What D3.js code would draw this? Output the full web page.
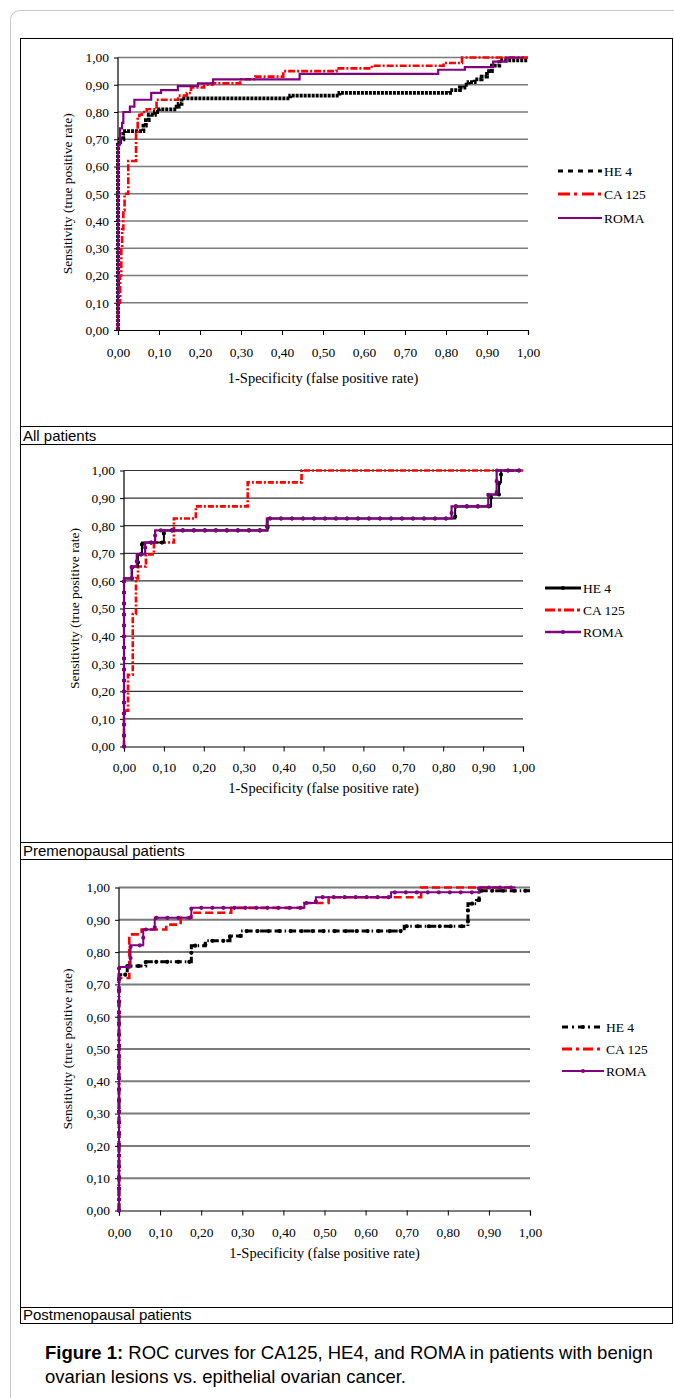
<!DOCTYPE html>
<html><head><meta charset="utf-8">
<script src="https://cdn.jsdelivr.net/npm/d3@7"></script>
<style>body{margin:0;background:#fff}svg{display:block}</style>
</head><body>
<svg id="c" width="674" height="1398"></svg>
<script>
// ---------- data ----------
const xTicks = [0,0.1,0.2,0.3,0.4,0.5,0.6,0.7,0.8,0.9,1.0];
const yTicks = [0,0.1,0.2,0.3,0.4,0.5,0.6,0.7,0.8,0.9,1.0];
const seriesNames = ["HE 4","CA 125","ROMA"];
const panelLabels = ["All patients","Premenopausal patients","Postmenopausal patients"];
const xTitle = "1-Specificity (false positive rate)";
const yTitle = "Sensitivity (true positive rate)";
const captionBold = "Figure 1:";
const captionLine1 = " ROC curves for CA125, HE4, and ROMA in patients with benign";
const captionLine2 = "ovarian lesions vs. epithelial ovarian cancer.";

// [fpr, sensitivity reached at that fpr]
const allHE4 = [[0,0],[0,0.68],[0.005,0.70],[0.013,0.72],[0.017,0.73],[0.062,0.75],[0.068,0.77],[0.075,0.79],[0.09,0.80],[0.10,0.81],[0.143,0.82],[0.148,0.83],[0.155,0.85],[0.42,0.86],[0.54,0.87],[0.81,0.88],[0.834,0.89],[0.845,0.90],[0.855,0.91],[0.87,0.92],[0.887,0.93],[0.90,0.94],[0.905,0.95],[0.912,0.97],[0.93,0.99],[1.0,0.99]];
const allCA125 = [[0,0],[0,0.10],[0.005,0.20],[0.008,0.30],[0.01,0.37],[0.013,0.44],[0.016,0.50],[0.025,0.62],[0.044,0.72],[0.048,0.78],[0.052,0.79],[0.058,0.80],[0.07,0.81],[0.094,0.845],[0.147,0.86],[0.168,0.87],[0.178,0.89],[0.21,0.90],[0.23,0.905],[0.298,0.92],[0.335,0.93],[0.403,0.95],[0.533,0.96],[0.619,0.97],[0.794,0.98],[0.839,1.0],[1.0,1.0]];
const allROMA = [[0,0],[0,0.68],[0.005,0.74],[0.01,0.76],[0.013,0.80],[0.029,0.82],[0.04,0.845],[0.081,0.87],[0.105,0.88],[0.146,0.895],[0.195,0.905],[0.232,0.92],[0.443,0.94],[0.781,0.955],[0.846,0.965],[0.915,0.985],[0.948,1.0],[0.99,1.0]];

const preHE4 = [[0,0],[0,0.609],[0.02,0.652],[0.035,0.696],[0.045,0.739],[0.10,0.783],[0.36,0.826],[0.83,0.870],[0.92,0.913],[0.94,0.957],[0.945,1.0],[0.99,1.0]];
const preCA125 = [[0,0],[0,0.13],[0.01,0.26],[0.022,0.48],[0.03,0.609],[0.035,0.652],[0.055,0.696],[0.075,0.739],[0.125,0.826],[0.18,0.870],[0.31,0.957],[0.445,1.0],[1.0,1.0]];
const preROMA = [[0,0],[0,0.609],[0.019,0.652],[0.032,0.696],[0.053,0.739],[0.078,0.783],[0.358,0.826],[0.821,0.870],[0.913,0.913],[0.934,1.0],[0.993,1.0]];

const postHE4 = [[0,0],[0,0.73],[0.02,0.757],[0.065,0.77],[0.176,0.82],[0.21,0.835],[0.27,0.85],[0.297,0.865],[0.694,0.88],[0.849,0.95],[0.87,0.96],[0.876,0.99],[1.0,0.99]];
const postCA125 = [[0,0],[0,0.72],[0.025,0.855],[0.055,0.87],[0.115,0.885],[0.15,0.906],[0.176,0.922],[0.273,0.937],[0.451,0.952],[0.51,0.97],[0.735,1.0],[0.965,1.0]];
const postROMA = [[0,0],[0,0.754],[0.028,0.821],[0.059,0.870],[0.087,0.906],[0.176,0.937],[0.451,0.952],[0.479,0.970],[0.662,0.985],[0.876,1.0],[0.965,1.0]];

// ---------- layout / style ----------
const svg = d3.select("#c");
const fmt = d => d3.format(".2f")(d).replace(".", ",");
const serif = "'Liberation Serif','Times New Roman',serif";
const sans = "'Liberation Sans',Arial,sans-serif";

// card + table frame
svg.append("rect").attr("x",10.5).attr("y",10.5).attr("width",700).attr("height",1420)
  .attr("rx",9).attr("fill","none").attr("stroke","#c8c8c8").attr("stroke-width",1);
const boxTop = 38.5, boxBottom = 1323.5, boxL = 20.5, boxR = 672.5;
svg.append("rect").attr("x",boxL).attr("y",boxTop).attr("width",boxR-boxL).attr("height",boxBottom-boxTop)
  .attr("fill","none").attr("stroke","#000");
const rows = [[426.5,444.5],[842.5,859.5],[1307.5,1323.5]];
rows.forEach((r,i)=>{
  r.forEach(y=>svg.append("line").attr("x1",boxL).attr("x2",boxR).attr("y1",y).attr("y2",y).attr("stroke","#000"));
  svg.append("text").attr("x",23).attr("y",r[1]-3.5).attr("font-family",sans).attr("font-size",15)
    .attr("fill","#000").text(panelLabels[i]);
});

const panels = [
  {x0:118,x1:528,yT:57.5,yB:330,grid:"#7a7a7a",gw:1.6,legX:558,legLen:44,legY:[171,194,218],ytx:72,pad:12,xtY:383,
   data:[allHE4,allCA125,allROMA],
   st:[{c:"#000",w:3.8,d:"3,1"},{c:"#f00",w:2.6,d:"7,2,2,2"},{c:"#800080",w:2.2,d:null}],
   leg:[{c:"#000",w:3,d:"5,5"},{c:"#f00",w:3,d:"12,4,3,5"},{c:"#800080",w:2.2,d:null}], dots:[0,0,0]},
  {x0:124,x1:523,yT:470.5,yB:746.5,grid:"#333",gw:1.2,legX:545,legLen:36,legY:[588,610,632],ytx:79,pad:11,xtY:793,
   data:[preHE4,preCA125,preROMA],
   st:[{c:"#000",w:2,d:null},{c:"#f00",w:2.6,d:"6,2,2,2"},{c:"#800080",w:2.2,d:null}],
   leg:[{c:"#000",w:3,d:null},{c:"#f00",w:3,d:"10,3,3,3"},{c:"#800080",w:2.5,d:null}], dots:[1,0,1]},
  {x0:119,x1:530,yT:887.5,yB:1210.5,grid:"#7a7a7a",gw:2,legX:562,legLen:42,legY:[1027,1049,1071],ytx:72,pad:12,xtY:1258,
   data:[postHE4,postCA125,postROMA],
   st:[{c:"#000",w:3,d:"7,3,1.5,3"},{c:"#f00",w:2.6,d:"8,4"},{c:"#800080",w:2,d:null}],
   leg:[{c:"#000",w:3,d:"6,4,2,4"},{c:"#f00",w:3,d:"10,4,3,4"},{c:"#800080",w:2.2,d:null}], dots:[1,0,1]}
];

panels.forEach((p,pi)=>{
  const x = d3.scaleLinear().domain([0,1]).range([p.x0,p.x1]);
  const y = d3.scaleLinear().domain([0,1]).range([p.yB,p.yT]);
  const g = svg.append("g");
  // gridlines
  g.selectAll("line.grid").data(yTicks.filter(d=>d>0)).join("line")
    .attr("x1",x(0)).attr("x2",x(1)).attr("y1",d=>y(d)).attr("y2",d=>y(d))
    .attr("stroke",p.grid).attr("stroke-width",p.gw);
  // axes
  const ax = g.append("g").attr("transform",`translate(0,${y(0)})`)
    .call(d3.axisBottom(x).tickValues(xTicks).tickFormat(fmt).tickSize(5).tickPadding(p.pad));
  const ay = g.append("g").attr("transform",`translate(${x(0)},0)`)
    .call(d3.axisLeft(y).tickValues(yTicks).tickFormat(fmt).tickSize(4).tickPadding(5));
  [ax,ay].forEach(a=>{
    a.select(".domain").attr("stroke","#000").attr("stroke-width",1.2);
    a.selectAll(".tick line").attr("stroke","#000");
    a.selectAll("text").attr("font-family",serif).attr("font-size",13.5).attr("fill","#000");
  });
  ay.select(".domain").attr("d",`M0,${y(0)}V${y(1)}`);
  // series
  const line = d3.line().x(d=>x(d[0])).y(d=>y(d[1])).curve(d3.curveStepAfter);
  const drawOrder = pi===0 ? [0,1,2] : [1,0,2];
  drawOrder.forEach(i=>{
    const s = p.st[i];
    g.append("path").attr("d",line(p.data[i])).attr("fill","none")
      .attr("stroke",s.c).attr("stroke-width",s.w).attr("stroke-dasharray",s.d);
    if(p.dots[i]){
      g.append("path").attr("d",line(p.data[i])).attr("fill","none")
        .attr("stroke",s.c).attr("stroke-width",4.2).attr("stroke-linecap","round")
        .attr("stroke-dasharray","0,11");
    }
  });
  // titles
  g.append("text").attr("x",(p.x0+p.x1)/2).attr("y",p.xtY).attr("text-anchor","middle")
    .attr("font-family",serif).attr("font-size",14.5).text(xTitle);
  g.append("text").attr("transform",`translate(${p.ytx},${(p.yT+p.yB)/2}) rotate(-90)`)
    .attr("text-anchor","middle").attr("font-family",serif).attr("font-size",13.5).text(yTitle);
  // legend
  seriesNames.forEach((n,i)=>{
    const s = p.leg[i], ly = p.legY[i];
    g.append("line").attr("x1",p.legX).attr("x2",p.legX+p.legLen).attr("y1",ly).attr("y2",ly)
      .attr("stroke",s.c).attr("stroke-width",s.w).attr("stroke-dasharray",s.d);
    if(p.dots[i]) g.append("circle").attr("cx",p.legX+p.legLen/2).attr("cy",ly).attr("r",2).attr("fill",s.c);
    g.append("text").attr("x",p.legX+p.legLen+2).attr("y",ly+4.5).attr("font-family",serif)
      .attr("font-size",13.5).text(n);
  });
});

// caption
const cap = svg.append("text").attr("x",45).attr("y",1359).attr("font-family",sans).attr("font-size",18.5);
cap.append("tspan").attr("font-weight","bold").text(captionBold);
cap.append("tspan").text(captionLine1);
svg.append("text").attr("x",45).attr("y",1383).attr("font-family",sans).attr("font-size",18.5).text(captionLine2);
</script>
</body></html>
